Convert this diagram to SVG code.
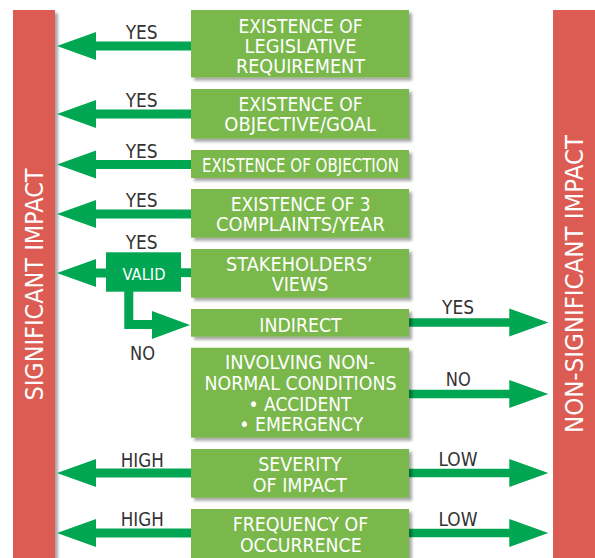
<svg xmlns="http://www.w3.org/2000/svg" width="595" height="558" viewBox="0 0 595 558">
  <defs>
    <filter id="shadow" x="-10%" y="-20%" width="130%" height="160%">
      <feGaussianBlur in="SourceAlpha" stdDeviation="1.6"/>
      <feOffset dx="3" dy="3" result="b"/>
      <feComponentTransfer><feFuncA type="linear" slope="0.35"/></feComponentTransfer>
      <feMerge><feMergeNode/><feMergeNode in="SourceGraphic"/></feMerge>
    </filter>
  </defs>
  <style>
    .bar { fill: #dc5c53; }
    .box { fill: #7ab84c; filter: url(#shadow); }
    .arrow { fill: #00a651; }
    .t { font-family: "DejaVu Sans", "Liberation Sans", sans-serif; font-size: 19px; fill: #ffffff; text-anchor: middle; }
    .lbl { font-family: "DejaVu Sans", "Liberation Sans", sans-serif; font-size: 19px; fill: #333333; text-anchor: middle; }
    .side { font-family: "DejaVu Sans", "Liberation Sans", sans-serif; font-size: 24.5px; fill: #ffffff; text-anchor: middle; }
  </style>
  <rect width="595" height="558" fill="#ffffff"/>

  <!-- outcome bars -->
  <g id="significant">
    <rect class="bar" x="13" y="10" width="42" height="552" filter="url(#shadow)"/>
    <text class="side" transform="translate(43.3,284.5) rotate(-90)" textLength="232" lengthAdjust="spacingAndGlyphs">SIGNIFICANT IMPACT</text>
  </g>
  <g id="non-significant">
    <rect class="bar" x="553" y="10" width="50" height="552"/>
    <text class="side" transform="translate(583.3,284) rotate(-90)" textLength="298" lengthAdjust="spacingAndGlyphs">NON-SIGNIFICANT IMPACT</text>
  </g>

  <!-- connectors -->
  <g id="connectors">
    <polygon class="arrow" points="191,41.5 96,41.5 96,32 57,46 96,60 96,50.5 191,50.5"/>
    <polygon class="arrow" points="191,109.5 96,109.5 96,100 57,114 96,128 96,118.5 191,118.5"/>
    <polygon class="arrow" points="191,160 96,160 96,150.5 57,164.5 96,178.5 96,169 191,169"/>
    <polygon class="arrow" points="191,209.5 96,209.5 96,200 57,214 96,228 96,218.5 191,218.5"/>
    <!-- stakeholders to valid, valid to significant -->
    <rect class="arrow" x="180" y="268.3" width="11" height="8.8"/>
    <polygon class="arrow" points="107,268.5 96,268.5 96,259 57,273 96,287 96,277.5 107,277.5"/>
    <!-- valid: no -> indirect -->
    <polygon class="arrow" points="124.3,291 133.3,291 133.3,320 152,320 152,311 190,325 152,339 152,329 124.3,329"/>
    <!-- to non-significant -->
    <polygon class="arrow" points="409,318.3 509.3,318.3 509.3,308.5 548.3,322.5 509.3,336.5 509.3,326.7 409,326.7"/>
    <polygon class="arrow" points="409,389.7 509.3,389.7 509.3,380 548.3,394 509.3,408 509.3,398.3 409,398.3"/>
    <polygon class="arrow" points="409,468.7 509.3,468.7 509.3,459 548.3,473 509.3,487 509.3,477.3 409,477.3"/>
    <polygon class="arrow" points="409,528.7 509.3,528.7 509.3,519 548.3,533 509.3,547 509.3,537.3 409,537.3"/>
    <!-- severity / frequency high -->
    <polygon class="arrow" points="191,468.5 96,468.5 96,459 57,473 96,487 96,477.5 191,477.5"/>
    <polygon class="arrow" points="191,528.5 96,528.5 96,519 57,533 96,547 96,537.5 191,537.5"/>

    <text class="lbl" x="141.7" y="39" textLength="32" lengthAdjust="spacingAndGlyphs">YES</text>
    <text class="lbl" x="141.7" y="106.7" textLength="32" lengthAdjust="spacingAndGlyphs">YES</text>
    <text class="lbl" x="141.7" y="157.7" textLength="32" lengthAdjust="spacingAndGlyphs">YES</text>
    <text class="lbl" x="141.7" y="206.7" textLength="32" lengthAdjust="spacingAndGlyphs">YES</text>
    <text class="lbl" x="141.7" y="249" textLength="32" lengthAdjust="spacingAndGlyphs">YES</text>
    <text class="lbl" x="142.5" y="360" textLength="25" lengthAdjust="spacingAndGlyphs">NO</text>
    <text class="lbl" x="142.3" y="466.7" textLength="43" lengthAdjust="spacingAndGlyphs">HIGH</text>
    <text class="lbl" x="142.3" y="526" textLength="43" lengthAdjust="spacingAndGlyphs">HIGH</text>
    <text class="lbl" x="458" y="314" textLength="32" lengthAdjust="spacingAndGlyphs">YES</text>
    <text class="lbl" x="458.3" y="385.7" textLength="25" lengthAdjust="spacingAndGlyphs">NO</text>
    <text class="lbl" x="458" y="465.7" textLength="39" lengthAdjust="spacingAndGlyphs">LOW</text>
    <text class="lbl" x="458" y="525.7" textLength="39" lengthAdjust="spacingAndGlyphs">LOW</text>
  </g>

  <!-- decision boxes -->
  <g id="valid">
    <rect x="106" y="252.3" width="75" height="39.4" fill="#00a651"/>
    <text class="t" x="144" y="279.5" style="font-size:16.5px" textLength="43" lengthAdjust="spacingAndGlyphs">VALID</text>
  </g>
  <g id="legislative">
    <rect class="box" x="191" y="10" width="218" height="67.5"/>
    <text class="t" x="300.5" y="32.5" textLength="124" lengthAdjust="spacingAndGlyphs">EXISTENCE OF</text>
    <text class="t" x="300.5" y="53" textLength="112" lengthAdjust="spacingAndGlyphs">LEGISLATIVE</text>
    <text class="t" x="300.5" y="73.3" textLength="129" lengthAdjust="spacingAndGlyphs">REQUIREMENT</text>
  </g>
  <g id="objective">
    <rect class="box" x="191" y="89" width="218" height="49.7"/>
    <text class="t" x="300.5" y="110.7" textLength="124" lengthAdjust="spacingAndGlyphs">EXISTENCE OF</text>
    <text class="t" x="300.2" y="130.7" textLength="151.7" lengthAdjust="spacingAndGlyphs">OBJECTIVE/GOAL</text>
  </g>
  <g id="objection">
    <rect class="box" x="191" y="150" width="218" height="28"/>
    <text class="t" x="300.4" y="171.6" textLength="197" lengthAdjust="spacingAndGlyphs">EXISTENCE OF OBJECTION</text>
  </g>
  <g id="complaints">
    <rect class="box" x="191" y="189" width="218" height="48.7"/>
    <text class="t" x="300.7" y="210.7" textLength="140" lengthAdjust="spacingAndGlyphs">EXISTENCE OF 3</text>
    <text class="t" x="300.5" y="231" textLength="169" lengthAdjust="spacingAndGlyphs">COMPLAINTS/YEAR</text>
  </g>
  <g id="stakeholders">
    <rect class="box" x="191" y="249" width="218" height="48.7"/>
    <text class="t" x="299.4" y="270.7" textLength="146.7" lengthAdjust="spacingAndGlyphs">STAKEHOLDERS’</text>
    <text class="t" x="300" y="291" textLength="56.7" lengthAdjust="spacingAndGlyphs">VIEWS</text>
  </g>
  <g id="indirect">
    <rect class="box" x="191" y="309" width="218" height="27.7"/>
    <text class="t" x="300.5" y="331.5" textLength="82.3" lengthAdjust="spacingAndGlyphs">INDIRECT</text>
  </g>
  <g id="non-normal">
    <rect class="box" x="191" y="347.7" width="218" height="90"/>
    <text class="t" x="300" y="369" textLength="150" lengthAdjust="spacingAndGlyphs">INVOLVING NON-</text>
    <text class="t" x="300.5" y="390" textLength="192" lengthAdjust="spacingAndGlyphs">NORMAL CONDITIONS</text>
    <text class="t" x="300" y="410.6" textLength="103" lengthAdjust="spacingAndGlyphs">• ACCIDENT</text>
    <text class="t" x="301.3" y="431" textLength="124" lengthAdjust="spacingAndGlyphs">• EMERGENCY</text>
  </g>
  <g id="severity">
    <rect class="box" x="191" y="449" width="218" height="48.7"/>
    <text class="t" x="300" y="471" textLength="83.3" lengthAdjust="spacingAndGlyphs">SEVERITY</text>
    <text class="t" x="299.7" y="491.6" textLength="94" lengthAdjust="spacingAndGlyphs">OF IMPACT</text>
  </g>
  <g id="frequency">
    <rect class="box" x="191" y="509" width="218" height="52"/>
    <text class="t" x="300.5" y="530.7" textLength="135.7" lengthAdjust="spacingAndGlyphs">FREQUENCY OF</text>
    <text class="t" x="300.8" y="551.6" textLength="121.7" lengthAdjust="spacingAndGlyphs">OCCURRENCE</text>
  </g>
</svg>
